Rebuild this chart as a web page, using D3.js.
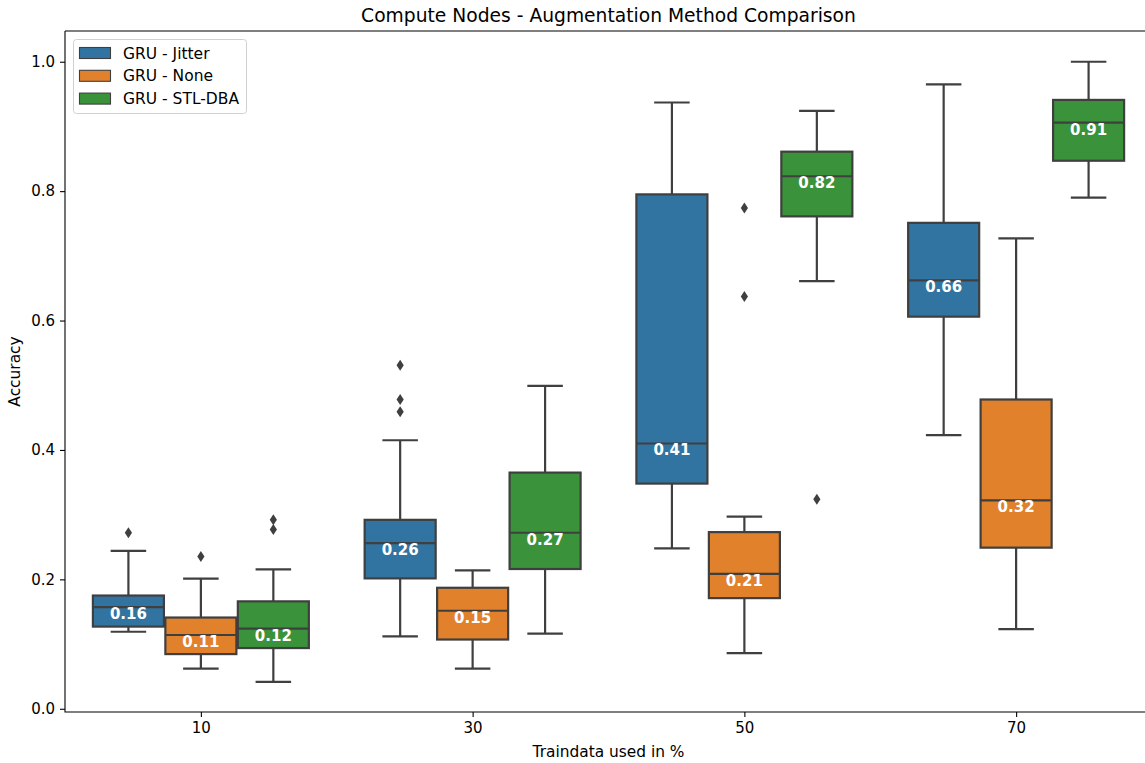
<!DOCTYPE html>
<html>
<head>
<meta charset="utf-8">
<script src="https://cdn.jsdelivr.net/npm/d3@7"></script>
<style>
  body { margin: 0; background: white; }
  text { font-family: "DejaVu Sans", sans-serif; }
</style>
</head>
<body>
<div class="boxplotGraph"></div>
<script>
let w = 1145;
let h = 763;

// categories and series
const traindata = ["10", "30", "50", "70"];
const methods = ["GRU - Jitter", "GRU - None", "GRU - STL-DBA"];
const colors = ["#3274a1", "#e1812c", "#3a923a"];

// [whisker low, q1, median, q3, whisker high] per traindata group
const jitterStats = [
  [0.119, 0.127, 0.157, 0.175, 0.244],
  [0.112, 0.2015, 0.256, 0.292, 0.415],
  [0.248, 0.348, 0.41, 0.795, 0.937],
  [0.423, 0.606, 0.662, 0.751, 0.965]
];
const noneStats = [
  [0.062, 0.0845, 0.114, 0.141, 0.201],
  [0.062, 0.107, 0.1515, 0.187, 0.214],
  [0.086, 0.171, 0.2085, 0.273, 0.297],
  [0.123, 0.249, 0.322, 0.478, 0.727]
];
const stlStats = [
  [0.0417, 0.0938, 0.124, 0.166, 0.2155],
  [0.116, 0.216, 0.272, 0.365, 0.499],
  [0.661, 0.761, 0.823, 0.861, 0.924],
  [0.79, 0.847, 0.906, 0.941, 1.0]
];

// fliers per traindata group
const jitterOutliers = [[0.272], [0.531, 0.478, 0.459], [], []];
const noneOutliers = [[0.2355], [], [0.774, 0.637], []];
const stlOutliers = [[0.292, 0.277], [], [0.324], []];

const yTicks = [0.0, 0.2, 0.4, 0.6, 0.8, 1.0];

const stats = [jitterStats, noneStats, stlStats];
const outliers = [jitterOutliers, noneOutliers, stlOutliers];

const padLeft = 65, padRight = 1152, padTop = 31, padBottom = 712;
const lineColor = "#3f3f3f";

const svg = d3.select(".boxplotGraph")
              .append("svg")
              .attr("width", w)
              .attr("height", h)
              .style("background-color", "white")

const xScale = d3.scaleLinear()
                 .domain([-0.5, traindata.length - 0.5])
                 .range([padLeft, padRight])

const yScale = d3.scaleLinear()
                 .domain([-0.005, 1.0475])
                 .range([padBottom, padTop])

const hueScale = d3.scaleBand()
                   .domain(methods)
                   .range([-0.4, 0.4])

const unit = xScale(1) - xScale(0);
const boxW = hueScale.bandwidth() * 0.98 * unit;

let boxes = [];
stats.forEach((s, m) => {
  s.forEach((d, i) => {
    boxes.push({
      m: m,
      cx: xScale(i + hueScale(methods[m]) + hueScale.bandwidth() / 2),
      lo: d[0], q1: d[1], med: d[2], q3: d[3], hi: d[4],
      out: outliers[m][i]
    })
  })
})

// axes
const yAxis = d3.axisLeft(yScale)
                .tickValues(yTicks)
                .tickFormat(d3.format(".1f"))
                .tickSize(5)
                .tickPadding(5)

svg.append("g")
   .attr("transform", "translate(" + padLeft + ",0)")
   .call(yAxis)
   .call(g => g.select(".domain").remove())
   .call(g => g.selectAll("line").attr("stroke", "#000").attr("stroke-width", 1.1))
   .call(g => g.selectAll("text").style("font-size", "15px").attr("fill", "#000"))

const xAxis = d3.axisBottom(xScale)
                .tickValues(traindata.map((d, i) => i))
                .tickFormat((d) => traindata[d])
                .tickSize(5)
                .tickPadding(5)

svg.append("g")
   .attr("transform", "translate(0," + padBottom + ")")
   .call(xAxis)
   .call(g => g.select(".domain").remove())
   .call(g => g.selectAll("line").attr("stroke", "#000").attr("stroke-width", 1.1))
   .call(g => g.selectAll("text").style("font-size", "15px").attr("fill", "#000"))

// whiskers
svg.selectAll(".whisker")
   .data(boxes.flatMap(b => [[b, b.q3, b.hi], [b, b.q1, b.lo]]))
   .enter()
   .append("line")
   .attr("x1", d => d[0].cx)
   .attr("x2", d => d[0].cx)
   .attr("y1", d => yScale(d[1]))
   .attr("y2", d => yScale(d[2]))
   .attr("stroke", lineColor)
   .attr("stroke-width", 2.2)

svg.selectAll(".cap")
   .data(boxes.flatMap(b => [[b, b.hi], [b, b.lo]]))
   .enter()
   .append("line")
   .attr("x1", d => d[0].cx - boxW / 4)
   .attr("x2", d => d[0].cx + boxW / 4)
   .attr("y1", d => yScale(d[1]))
   .attr("y2", d => yScale(d[1]))
   .attr("stroke", lineColor)
   .attr("stroke-width", 2.2)

// boxes
svg.selectAll(".box")
   .data(boxes)
   .enter()
   .append("rect")
   .attr("x", d => d.cx - boxW / 2)
   .attr("y", d => yScale(d.q3))
   .attr("width", boxW)
   .attr("height", d => yScale(d.q1) - yScale(d.q3))
   .attr("fill", d => colors[d.m])
   .attr("stroke", lineColor)
   .attr("stroke-width", 2.2)

svg.selectAll(".median")
   .data(boxes)
   .enter()
   .append("line")
   .attr("x1", d => d.cx - boxW / 2)
   .attr("x2", d => d.cx + boxW / 2)
   .attr("y1", d => yScale(d.med))
   .attr("y2", d => yScale(d.med))
   .attr("stroke", lineColor)
   .attr("stroke-width", 2.2)

// fliers (thin diamonds)
svg.selectAll(".flier")
   .data(boxes.flatMap(b => b.out.map(v => [b, v])))
   .enter()
   .append("path")
   .attr("d", "M0,-5.5L3.6,0L0,5.5L-3.6,0Z")
   .attr("transform", d => "translate(" + d[0].cx + "," + yScale(d[1]) + ")")
   .attr("fill", lineColor)

// median labels
svg.selectAll(".medlabel")
   .data(boxes)
   .enter()
   .append("text")
   .attr("x", d => d.cx)
   .attr("y", d => yScale(d.med) + 12)
   .attr("text-anchor", "middle")
   .attr("fill", "white")
   .style("font-size", "15px")
   .style("font-weight", "bold")
   .text(d => d.med.toFixed(2))

// spines
svg.append("path")
   .attr("d", "M" + padLeft + "," + padTop + "H" + padRight + "M" + padLeft + "," + padTop + "V" + padBottom + "H" + padRight)
   .attr("fill", "none")
   .attr("stroke", "#000")
   .attr("stroke-width", 1.1)

// title and labels
svg.append("text")
   .attr("x", (padLeft + padRight) / 2)
   .attr("y", 22)
   .attr("text-anchor", "middle")
   .style("font-size", "18.7px")
   .text("Compute Nodes - Augmentation Method Comparison")

svg.append("text")
   .attr("x", (padLeft + padRight) / 2)
   .attr("y", 757)
   .attr("text-anchor", "middle")
   .style("font-size", "15.4px")
   .text("Traindata used in %")

svg.append("text")
   .attr("transform", "translate(20," + (padTop + padBottom) / 2 + ") rotate(-90)")
   .attr("text-anchor", "middle")
   .style("font-size", "15.4px")
   .text("Accuracy")

// legend
svg.append("rect")
   .attr("x", 73.5)
   .attr("y", 39.5)
   .attr("width", 173)
   .attr("height", 74)
   .attr("rx", 3)
   .attr("fill", "white")
   .attr("fill-opacity", 0.8)
   .attr("stroke", "#d0d0d0")

svg.selectAll(".legendbox")
   .data(methods)
   .enter()
   .append("rect")
   .attr("x", 79.5)
   .attr("y", (d, i) => 47.5 + i * 22.8)
   .attr("width", 31)
   .attr("height", 11)
   .attr("fill", (d, i) => colors[i])
   .attr("stroke", lineColor)
   .attr("stroke-width", 1.1)

svg.selectAll(".legendlabel")
   .data(methods)
   .enter()
   .append("text")
   .attr("x", 123)
   .attr("y", (d, i) => 58.5 + i * 22.8)
   .style("font-size", "15.5px")
   .text(d => d)
</script>
</body>
</html>
